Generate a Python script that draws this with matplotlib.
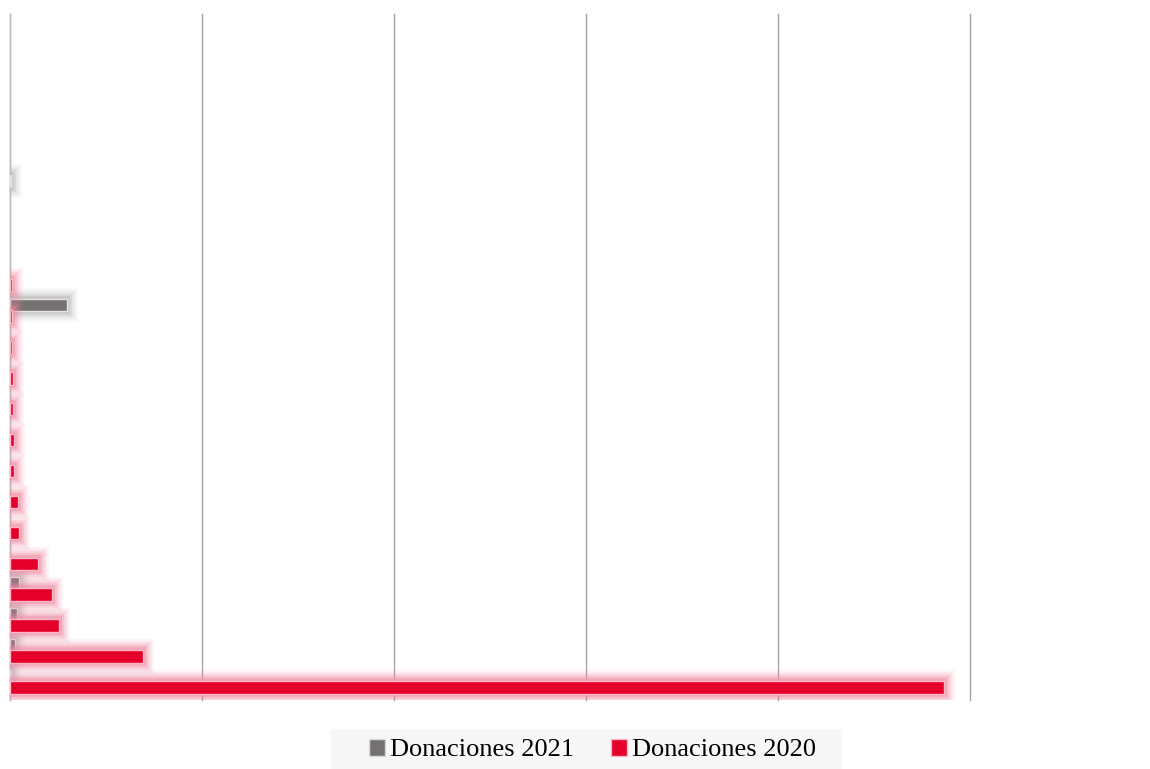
import numpy as np
import matplotlib.pyplot as plt
import matplotlib.patheffects as pe
from matplotlib.patches import Patch, Rectangle

# Donations per category (bottom category first), 22 slots
donaciones_2021 = [15, 52, 73, 94, 0, 0, 0, 0, 0, 0, 0, 0, 594, 0, 0, 0, 15, 0, 0, 0, 0, 0]
donaciones_2020 = [9730, 1385, 510, 437, 292, 94, 83, 42, 42, 31, 31, 21, 21, 21, 0, 0, 0, 0, 0, 0, 0, 0]

color_2021 = '#767171'
color_2020 = '#E4002B'
glow_2021 = '#B8B8B8'
glow_2020 = '#F08AA2'

plt.rcParams['font.family'] = ['Liberation Serif', 'DejaVu Serif']

fig = plt.figure(figsize=(11.5, 7.69), dpi=100)
ax = fig.add_axes([0.0087, 0.0897, 0.8348, 0.8921])

y = np.arange(len(donaciones_2020))
h = 0.4


def glow(c):
    return [pe.Stroke(linewidth=16, foreground=c, alpha=0.08),
            pe.Stroke(linewidth=13, foreground=c, alpha=0.12),
            pe.Stroke(linewidth=10, foreground=c, alpha=0.18),
            pe.Stroke(linewidth=7, foreground=c, alpha=0.3),
            pe.Stroke(linewidth=4, foreground=c, alpha=0.45),
            pe.Normal()]


bars21 = ax.barh(y + 0.19, donaciones_2021, height=h, color=color_2021,
                 edgecolor='#E3E3E3', linewidth=1.0, zorder=3)
bars20 = ax.barh(y - 0.19, donaciones_2020, height=h, color=color_2020,
                 edgecolor='#F9B8C7', linewidth=1.0, zorder=3)
for bars, vals, c in [(bars21, donaciones_2021, glow_2021),
                      (bars20, donaciones_2020, glow_2020)]:
    for b, v in zip(bars, vals):
        if v > 0:
            b.set_path_effects(glow(c))
        else:
            b.set_visible(False)

ax.set_xlim(0, 10000)
ax.set_ylim(-0.6, len(y) - 0.4)
ax.set_xticks([])
for xv in np.arange(0, 10001, 2000):
    ax.axvline(xv, color='#A6A6A6', linewidth=1, zorder=1, clip_on=False)
ax.tick_params(left=False, bottom=False, labelleft=False, labelbottom=False)
for s in ['top', 'right', 'bottom']:
    ax.spines[s].set_visible(False)
ax.spines['left'].set_color('#BFBFBF')
ax.spines['left'].set_linewidth(1)

# legend band at the bottom
fig.patches.append(Rectangle((331 / 1150, 0), 511 / 1150, 40 / 769,
                             transform=fig.transFigure, facecolor='#F7F7F7',
                             edgecolor='none', zorder=0))
handles = [Patch(facecolor=color_2021, edgecolor='#D9D9D9', label='Donaciones 2021'),
           Patch(facecolor=color_2020, edgecolor='#F7B3C3', label='Donaciones 2020')]
leg = fig.legend(handles=handles, loc='center', bbox_to_anchor=(0.5155, 0.0245),
                 ncol=2, frameon=False, fontsize=19, handlelength=0.6,
                 handleheight=0.6, handletextpad=0.2, columnspacing=1.4,
                 borderpad=0.25)

fig.savefig('out.png', dpi=100)
